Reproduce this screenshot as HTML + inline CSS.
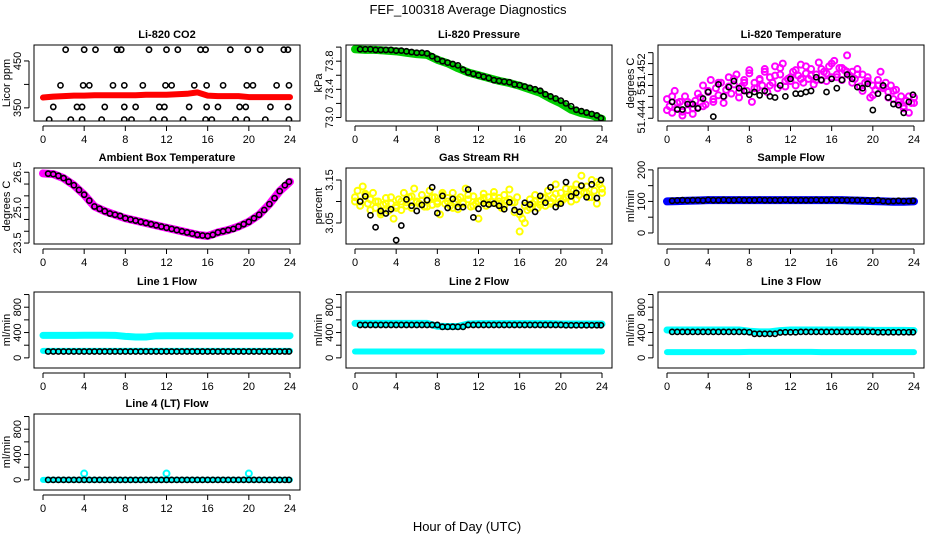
<!DOCTYPE html>
<html><head><meta charset="utf-8">
<style>
html,body{margin:0;padding:0;background:#fff;}
svg{display:block;font-family:"Liberation Sans",Arial,sans-serif;}
</style></head>
<body>
<svg id="chart" width="936" height="540" viewBox="0 0 936 540" xmlns="http://www.w3.org/2000/svg">
<text x="468" y="14" text-anchor="middle" font-size="13">FEF_100318  Average Diagnostics</text>
<text x="467" y="531" text-anchor="middle" font-size="13">Hour of Day (UTC)</text>
</svg>
<script>
const halfHours=[0.5,1,1.5,2,2.5,3,3.5,4,4.5,5,5.5,6,6.5,7,7.5,8,8.5,9,9.5,10,10.5,11,11.5,12,12.5,13,13.5,14,14.5,15,15.5,16,16.5,17,17.5,18,18.5,19,19.5,20,20.5,21,21.5,22,22.5,23,23.5,23.9];
const hours=[0,1,2,3,4,5,6,7,8,9,10,11,12,13,14,15,16,17,18,19,20,21,22,23,24];
const halfHours0=[0,0.5,1,1.5,2,2.5,3,3.5,4,4.5,5,5.5,6,6.5,7,7.5,8,8.5,9,9.5,10,10.5,11,11.5,12,12.5,13,13.5,14,14.5,15,15.5,16,16.5,17,17.5,18,18.5,19,19.5,20,20.5,21,21.5,22,22.5,23,23.5,24];
const quarterHours=[0,0.25,0.5,0.75,1,1.25,1.5,1.75,2,2.25,2.5,2.75,3,3.25,3.5,3.75,4,4.25,4.5,4.75,5,5.25,5.5,5.75,6,6.25,6.5,6.75,7,7.25,7.5,7.75,8,8.25,8.5,8.75,9,9.25,9.5,9.75,10,10.25,10.5,10.75,11,11.25,11.5,11.75,12,12.25,12.5,12.75,13,13.25,13.5,13.75,14,14.25,14.5,14.75,15,15.25,15.5,15.75,16,16.25,16.5,16.75,17,17.25,17.5,17.75,18,18.25,18.5,18.75,19,19.25,19.5,19.75,20,20.25,20.5,20.75,21,21.25,21.5,21.75,22,22.25,22.5,22.75,23,23.25,23.5,23.75,24];
const xTicks=[0,4,8,12,16,20,24];

// CO2
const co2Band=[372,374,375,376,376,377,377,377,377,377,378,378,378,379,380,383,376,375,375,375,373,373,373,373,373];
const co2PtTimes=[2.2,4,5.1,7.2,7.6,10.3,12,13.1,15.3,15.8,18.2,19.9,21.1,23.4,23.8,1.7,3.9,4.5,6.8,7.9,9.7,11.9,12.5,14.7,15.9,17.5,19.8,20.4,22.7,23.9,1.0,3.3,3.8,6.0,7.9,9.0,11.3,11.8,14.2,15.9,17.0,19.1,19.7,22.1,23.8,0.6,2.7,3.8,5.7,7.9,8.6,10.7,11.8,13.6,15.8,16.4,18.7,19.8,21.6,23.9];
const co2PtVals=[474,474,474,474,474,474,474,474,474,474,474,474,474,474,474,398,398,398,398,398,398,398,398,398,398,398,398,398,398,398,352,352,352,352,352,352,352,352,352,352,352,352,352,352,352,325,325,325,325,325,325,325,325,325,325,325,325,325,325,325];
// Pressure
const presBand=[73.97,73.96,73.96,73.95,73.94,73.92,73.9,73.89,73.82,73.77,73.7,73.64,73.6,73.56,73.52,73.49,73.45,73.4,73.35,73.27,73.2,73.11,73.06,73.03,72.98];
const presPts=[73.97,73.97,73.97,73.96,73.96,73.96,73.96,73.95,73.95,73.94,73.93,73.92,73.92,73.91,73.87,73.83,73.8,73.78,73.76,73.74,73.68,73.64,73.62,73.6,73.58,73.56,73.53,73.52,73.51,73.5,73.47,73.46,73.44,73.42,73.4,73.38,73.33,73.3,73.27,73.24,73.2,73.16,73.11,73.09,73.07,73.05,73.03,72.99];
// Temperature
const tempCloudA=[51.4475,51.4462,51.4450,51.4490,51.4458,51.4470,51.4445,51.4480,51.4455,51.4466,51.4448,51.4472,51.4460,51.4478,51.4500,51.4465,51.4488,51.4510,51.4470,51.4495,51.4482,51.4505,51.4468,51.4492,51.4515,51.4485,51.4502,51.4520,51.4478,51.4498,51.4510,51.4490,51.4528,51.4470,51.4505,51.4495,51.4512,51.4500,51.4530,51.4488,51.4515,51.4505,51.4535,51.4495,51.4520,51.4540,51.4498,51.4512,51.4508,51.4525,51.4500,51.4518,51.4538,51.4505,51.4522,51.4512,51.4530,51.4502,51.4520,51.4542,51.4510,51.4525,51.4508,51.4535,51.4515,51.4545,51.4520,51.4532,51.4510,51.4528,51.4555,51.4518,51.4525,51.4512,51.4530,51.4498,51.4520,51.4505,51.4515,51.4478,51.4500,51.4492,51.4510,51.4525,51.4498,51.4505,51.4488,51.4500,51.4475,51.4492,51.4465,51.4480,51.4458,51.4472,51.4450,51.4468,51.4478];
const tempCloudB=[51.4455,51.4480,51.4468,51.4452,51.4470,51.4458,51.4485,51.4462,51.4490,51.4475,51.4505,51.4480,51.4498,51.4512,51.4488,51.4505,51.4522,51.4495,51.4510,51.4525,51.4500,51.4518,51.4532,51.4508,51.4515,51.4528,51.4512,51.4535,51.4518,51.4510,51.4530,51.4522,51.4540,51.4515,51.4532,51.4525,51.4505,51.4520,51.4490,51.4508,51.4482,51.4500,51.4495,51.4478,51.4490,51.4470,51.4462,51.4480,51.4468];
const tempPts=[51.4470,51.4456,51.4456,51.4466,51.4466,51.4458,51.4476,51.4488,51.4443,51.4502,51.4480,51.4497,51.4508,51.4495,51.4490,51.4483,51.4488,51.4482,51.4490,51.4480,51.4478,51.4500,51.4480,51.4512,51.4485,51.4485,51.4488,51.4490,51.4515,51.4510,51.4488,51.4512,51.4495,51.4510,51.4520,51.4512,51.4497,51.4495,51.4503,51.4455,51.4485,51.4500,51.4478,51.4466,51.4464,51.4450,51.4470,51.4483];
// Ambient
const ambBand=[26.45,26.42,26.25,25.95,25.55,25.05,24.85,24.7,24.55,24.45,24.35,24.25,24.15,24.05,23.95,23.85,23.8,23.95,24.05,24.2,24.4,24.7,25.15,25.7,26.1];
const ambPts=[26.44,26.42,26.35,26.25,26.1,25.95,25.75,25.55,25.3,25.05,24.95,24.85,24.75,24.7,24.65,24.55,24.5,24.45,24.4,24.35,24.3,24.25,24.2,24.15,24.1,24.05,24.0,23.95,23.9,23.85,23.82,23.8,23.85,23.95,24.0,24.05,24.1,24.2,24.3,24.4,24.55,24.7,24.9,25.15,25.4,25.7,25.95,26.1];
// RH
const rhCloudA=[3.110,3.125,3.100,3.135,3.115,3.095,3.105,3.120,3.085,3.100,3.070,3.092,3.108,3.078,3.095,3.060,3.090,3.105,3.080,3.120,3.098,3.110,3.085,3.130,3.100,3.095,3.115,3.088,3.105,3.125,3.092,3.110,3.100,3.070,3.115,3.095,3.108,3.090,3.120,3.100,3.082,3.110,3.098,3.130,3.105,3.088,3.112,3.095,3.060,3.102,3.118,3.090,3.110,3.100,3.122,3.095,3.108,3.085,3.115,3.100,3.128,3.098,3.075,3.110,3.030,3.060,3.090,3.080,3.105,3.095,3.115,3.085,3.100,3.110,3.090,3.125,3.100,3.108,3.140,3.095,3.120,3.105,3.130,3.112,3.100,3.125,3.140,3.115,3.160,3.120,3.135,3.110,3.150,3.125,3.095,3.140,3.120];
const rhCloudB=[3.100,3.090,3.118,3.080,3.100,3.075,3.095,3.110,3.085,3.100,3.090,3.112,3.098,3.102,3.088,3.110,3.095,3.120,3.100,3.085,3.105,3.095,3.115,3.090,3.100,3.108,3.095,3.112,3.100,3.090,3.105,3.098,3.070,3.050,3.085,3.100,3.092,3.108,3.095,3.118,3.100,3.110,3.128,3.105,3.135,3.120,3.110,3.145,3.130];
const rhPts=[3.100,3.112,3.068,3.040,3.078,3.072,3.082,3.010,3.044,3.105,3.090,3.078,3.092,3.103,3.133,3.073,3.113,3.085,3.106,3.087,3.087,3.128,3.063,3.083,3.095,3.093,3.095,3.090,3.082,3.098,3.080,3.076,3.097,3.093,3.076,3.113,3.097,3.133,3.087,3.095,3.145,3.112,3.120,3.137,3.110,3.140,3.108,3.150];
// Sample flow
const sampleBand=[100,101,102,103,104,104,104,104,104,104,104,104,104,104,104,104,104,104,103,102,101,100,99,99,100];
const samplePts=[102,103,104,103,104,104,103,105,104,104,105,104,104,105,104,104,104,105,104,104,104,104,105,104,104,104,104,104,105,104,104,105,104,104,104,104,104,103,103,102,104,101,100,101,102,101,101,102];
// Line flows
const l1Upper=[355,355,355,356,357,357,357,356,340,330,330,348,350,350,350,350,350,350,350,350,350,350,350,350,350];
const l1Lower=[110,110,110,110,110,110,110,110,110,110,110,110,110,110,110,110,110,110,110,110,110,110,110,110,110];
const l1Pts=[100,100,100,100,100,100,100,100,100,100,100,100,100,100,100,100,100,100,100,100,100,100,100,100,100,100,100,100,100,100,100,100,100,100,100,100,100,100,100,100,100,100,100,100,100,100,100,100];
const l2Upper=[545,545,545,545,545,545,545,545,500,495,495,535,540,540,540,540,540,540,540,540,535,535,535,535,535];
const l2Lower=[100,100,100,100,100,100,100,100,100,100,100,100,100,100,100,100,100,100,100,100,100,100,100,100,100];
const l2Pts=[520,520,520,520,520,520,520,520,520,520,520,520,520,520,520,520,490,490,490,490,490,520,520,520,520,520,520,520,520,520,520,520,520,520,520,520,520,520,520,520,515,515,515,515,515,515,515,515];
const l3Upper=[440,440,440,440,440,440,440,440,420,410,410,430,440,440,440,440,440,440,440,440,435,435,435,435,430];
const l3Lower=[90,90,90,90,90,90,90,90,95,95,95,95,95,95,95,90,90,90,90,90,90,90,90,90,90];
const l3Pts=[410,410,410,410,410,410,410,410,410,410,410,410,410,410,410,405,380,380,380,380,380,400,405,405,405,410,410,410,410,410,410,410,410,410,410,410,410,410,410,410,405,405,405,405,405,405,405,405];
const l4Line=[0,0,0,0,0,0,0,0,0,0,0,0,0,0,0,0,0,0,0,0,0,0,0,0,0];
const l4Outliers=[100,100,100];
const l4OutlierTimes=[4,12,20];
const l4Pts=[0,0,0,0,0,0,0,0,0,0,0,0,0,0,0,0,0,0,0,0,0,0,0,0,0,0,0,0,0,0,0,0,0,0,0,0,0,0,0,0,0,0,0,0,0,0,0,0];

const NS='http://www.w3.org/2000/svg';
const svg=document.getElementById('chart');
function mk(tag,attrs,parent){const e=document.createElementNS(NS,tag);for(const k in attrs)e.setAttribute(k,attrs[k]);(parent||svg).appendChild(e);return e;}

function panel(cfg){
  const g=mk('g',{});
  
  
  const L=cfg.left,T=cfg.top,W=266,H=76;
  const xs=v=>L+9+v*(247/24);
  const ys=v=>T+H-(v-cfg.ymin)/(cfg.ymax-cfg.ymin)*H;
  const t=mk('text',{x:L+W/2,y:T-7,'text-anchor':'middle','font-size':'11','font-weight':'bold'},g);
  t.textContent=cfg.title;
  
  
  const yl=mk('text',{x:0,y:0,'text-anchor':'middle','font-size':'11',transform:`translate(${L-24},${T+H/2}) rotate(-90)`},g);
  yl.textContent=cfg.ylab;
  
  
  const xa=mk('g',{},g);
  
  
  mk('line',{x1:xs(0),x2:xs(24),y1:T+H+5,y2:T+H+5,stroke:'#000'},xa);
  xTicks.forEach(v=>{
    mk('line',{x1:xs(v),x2:xs(v),y1:T+H+5,y2:T+H+10,stroke:'#000'},xa);
    if(cfg.xlabels){const tx=mk('text',{x:xs(v),y:T+H+22,'text-anchor':'middle','font-size':'11'},xa);tx.textContent=v;
      
      }
  });
  const ya=mk('g',{},g);
  
  
  const y0=ys(cfg.yticks[0]),y1=ys(cfg.yticks[cfg.yticks.length-1]);
  mk('line',{x1:L-5,x2:L-5,y1:y0,y2:y1,stroke:'#000'},ya);
  cfg.yticks.forEach(v=>mk('line',{x1:L-10,x2:L-5,y1:ys(v),y2:ys(v),stroke:'#000'},ya));
  cfg.ylabels.forEach(p=>{
    const tx=mk('text',{x:0,y:0,'text-anchor':'middle','font-size':'11',transform:`translate(${L-13},${ys(p[0])}) rotate(-90)`},ya);
    tx.textContent=p[1];
    
    
  });
  const clipId='c'+cfg.name;
  const cp=mk('clipPath',{id:clipId},g);mk('rect',{x:L,y:T,width:W,height:H},cp);
  const plot=mk('g',{'clip-path':`url(#${clipId})`},g);
  (cfg.bands||[]).forEach(b=>{
    const pts=b.x.map((xv,i)=>xs(xv)+','+ys(b.y[i])).join(' ');
    const pl=mk('polyline',{points:pts,fill:'none',stroke:b.color,'stroke-width':b.w||7,'stroke-linejoin':'round','stroke-linecap':'round'},plot);
    
    
  });
  (cfg.series||[]).forEach(s=>{
    const sg=mk('g',{},plot);
    
    
    const n=Math.min(s.x.length,s.y.length);
    for(let i=0;i<n;i++){
      mk('circle',{cx:xs(s.x[i]),cy:ys(s.y[i]),r:s.r||2.6,fill:'none',stroke:s.color,'stroke-width':s.sw||1.6},sg);
    }
  });
  const box=mk('rect',{x:L,y:T,width:W,height:H,fill:'none',stroke:'#000'},g);
  
  
}
const flowTicks=[0,200,400,600,800,1000];
const flowLabels=[[0,'0'],[400,'400'],[800,'800']];

panel({name:'co2-panel',title:'Li-820 CO2',ylab:'Licor ppm',left:34,top:45,ymin:322,ymax:484,yticks:[350,400,450],ylabels:[[350,'350'],[450,'450']],xlabels:true,
  bands:[{name:'co2-band',x:hours,y:co2Band,color:'#ff0000',w:6}],
  series:[{name:'co2-points',x:co2PtTimes,y:co2PtVals,color:'#000'}]});
panel({name:'pressure-panel',title:'Li-820 Pressure',ylab:'kPa',left:346,top:45,ymin:72.95,ymax:74.03,yticks:[73.0,73.2,73.4,73.6,73.8,74.0],ylabels:[[73.0,'73.0'],[73.4,'73.4'],[73.8,'73.8']],xlabels:true,
  bands:[{name:'pressure-band',x:hours,y:presBand,color:'#00cc00',w:8}],
  series:[{name:'pressure-points',x:halfHours,y:presPts,color:'#000'}]});
panel({name:'temperature-panel',title:'Li-820 Temperature',ylab:'degrees C',left:658,top:45,ymin:51.4435,ymax:51.4574,yticks:[51.444,51.446,51.448,51.450,51.452,51.454,51.456],ylabels:[[51.4443,'51.444'],[51.4494,'51'],[51.4528,'51.452']],xlabels:true,
  series:[{name:'temperature-cloud-a',x:quarterHours,y:tempCloudA,color:'#ff00ff',r:3,sw:2},{name:'temperature-cloud-b',x:halfHours0,y:tempCloudB,color:'#ff00ff',r:3,sw:2},{name:'temperature-points',x:halfHours,y:tempPts,color:'#000'}]});
panel({name:'ambient-panel',title:'Ambient Box Temperature',ylab:'degrees C',left:34,top:168,ymin:23.46,ymax:26.68,yticks:[23.5,24,24.5,25,25.5,26,26.5],ylabels:[[23.5,'23.5'],[25.0,'25.0'],[26.5,'26.5']],xlabels:true,
  bands:[{name:'ambient-band',x:hours,y:ambBand,color:'#ff00ff',w:8}],
  series:[{name:'ambient-points',x:halfHours,y:ambPts,color:'#000'}]});
panel({name:'rh-panel',title:'Gas Stream RH',ylab:'percent',left:346,top:168,ymin:3.001,ymax:3.178,yticks:[3.05,3.10,3.15],ylabels:[[3.05,'3.05'],[3.15,'3.15']],xlabels:true,
  series:[{name:'rh-cloud-a',x:quarterHours,y:rhCloudA,color:'#ffff00',r:3,sw:2},{name:'rh-cloud-b',x:halfHours0,y:rhCloudB,color:'#ffff00',r:3,sw:2},{name:'rh-points',x:halfHours,y:rhPts,color:'#000'}]});
panel({name:'sample-flow-panel',title:'Sample Flow',ylab:'ml/min',left:658,top:168,ymin:-35,ymax:206,yticks:[0,50,100,150,200],ylabels:[[0,'0'],[100,'100'],[200,'200']],xlabels:true,
  bands:[{name:'sample-flow-band',x:hours,y:sampleBand,color:'#0000ff',w:8}],
  series:[{name:'sample-flow-points',x:halfHours,y:samplePts,color:'#000'}]});
panel({name:'line1-panel',title:'Line 1 Flow',ylab:'ml/min',left:34,top:292,ymin:-160,ymax:1040,yticks:flowTicks,ylabels:flowLabels,xlabels:true,
  bands:[{name:'line1-upper-band',x:hours,y:l1Upper,color:'#00ffff',w:7},{name:'line1-lower-band',x:hours,y:l1Lower,color:'#00ffff',w:6}],
  series:[{name:'line1-points',x:halfHours,y:l1Pts,color:'#000'}]});
panel({name:'line2-panel',title:'Line 2 Flow',ylab:'ml/min',left:346,top:292,ymin:-160,ymax:1040,yticks:flowTicks,ylabels:flowLabels,xlabels:true,
  bands:[{name:'line2-upper-band',x:hours,y:l2Upper,color:'#00ffff',w:7},{name:'line2-lower-band',x:hours,y:l2Lower,color:'#00ffff',w:6}],
  series:[{name:'line2-points',x:halfHours,y:l2Pts,color:'#000'}]});
panel({name:'line3-panel',title:'Line 3 Flow',ylab:'ml/min',left:658,top:292,ymin:-160,ymax:1040,yticks:flowTicks,ylabels:flowLabels,xlabels:true,
  bands:[{name:'line3-upper-band',x:hours,y:l3Upper,color:'#00ffff',w:7},{name:'line3-lower-band',x:hours,y:l3Lower,color:'#00ffff',w:6}],
  series:[{name:'line3-points',x:halfHours,y:l3Pts,color:'#000'}]});
panel({name:'line4-panel',title:'Line 4 (LT) Flow',ylab:'ml/min',left:34,top:414,ymin:-160,ymax:1040,yticks:flowTicks,ylabels:flowLabels,xlabels:true,
  bands:[{name:'line4-band',x:hours,y:l4Line,color:'#00ffff',w:6}],
  series:[{name:'line4-outliers',x:l4OutlierTimes,y:l4Outliers,color:'#00ffff',r:3,sw:2},{name:'line4-points',x:halfHours,y:l4Pts,color:'#000'}]});
</script>
</body></html>
